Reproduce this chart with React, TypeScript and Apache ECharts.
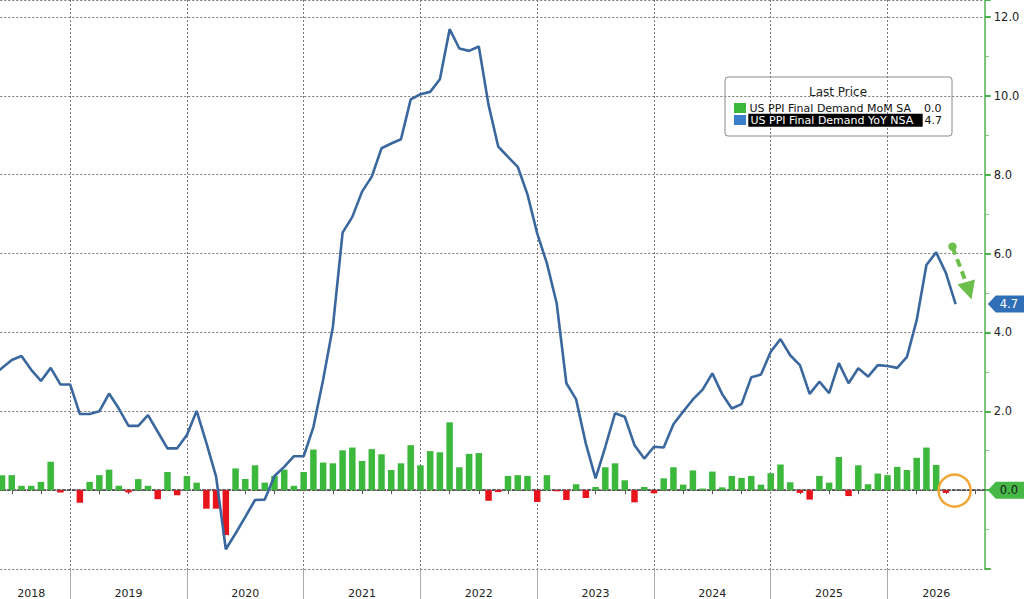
import React, { useEffect, useRef } from "react";
import * as echarts from "echarts";

// ---- Data (monthly, plotted at month end) ----
const START_YEAR = 2018;
const START_MONTH = 4; // April 2018 is the first category
const END_YEAR = 2026;
const END_MONTH = 10; // axis runs out to October 2026

// US PPI Final Demand YoY NSA (%)
const yoy2018 = [2.9, 3.1, 3.3, 3.4, 3.05, 2.77, 3.1, 2.68, 2.68]; // Apr-Dec
const yoy2019 = [1.93, 1.93, 2.0, 2.45, 2.07, 1.63, 1.63, 1.9, 1.48, 1.06, 1.06, 1.4];
const yoy2020 = [2.01, 1.2, 0.34, -1.5, -1.1, -0.68, -0.25, -0.24, 0.36, 0.59, 0.86, 0.86];
const yoy2021 = [1.6, 2.8, 4.14, 6.53, 6.93, 7.57, 7.95, 8.67, 8.79, 8.9, 9.91, 10.04];
const yoy2022 = [10.1, 10.42, 11.69, 11.2, 11.14, 11.25, 9.77, 8.71, 8.45, 8.2, 7.5, 6.51];
const yoy2023 = [5.75, 4.74, 2.71, 2.3, 1.18, 0.3, 1.1, 1.95, 1.86, 1.14, 0.8, 1.1];
const yoy2024 = [1.08, 1.67, 1.99, 2.3, 2.55, 2.96, 2.44, 2.07, 2.18, 2.86, 2.93, 3.51];
const yoy2025 = [3.83, 3.42, 3.17, 2.44, 2.75, 2.46, 3.22, 2.71, 3.09, 2.88, 3.17, 3.15];
const yoy2026 = [3.1, 3.38, 4.31, 5.71, 6.03, 5.51, 4.72]; // Jan-Jul

// US PPI Final Demand MoM SA (%)
const mom2018 = [null, 0.38, 0.38, 0.11, 0.11, 0.21, 0.72, -0.06, 0.0];
const mom2019 = [-0.32, 0.21, 0.38, 0.52, 0.11, -0.06, 0.28, 0.11, -0.23, 0.46, -0.13, 0.36];
const mom2020 = [0.19, -0.47, -0.47, -1.14, 0.55, 0.28, 0.63, 0.19, 0.36, 0.52, 0.11, 0.46];
const mom2021 = [1.03, 0.7, 0.68, 1.01, 1.08, 0.74, 1.04, 0.91, 0.51, 0.68, 1.14, 0.63];
const mom2022 = [0.99, 0.96, 1.72, 0.58, 0.92, 0.94, -0.27, -0.05, 0.36, 0.38, 0.36, -0.3];
const mom2023 = [0.38, -0.03, -0.25, 0.15, -0.2, 0.08, 0.58, 0.68, 0.25, -0.31, 0.08, -0.08];
const mom2024 = [0.3, 0.58, 0.14, 0.5, 0.04, 0.47, 0.07, 0.36, 0.31, 0.36, 0.14, 0.43];
const mom2025 = [0.65, 0.2, -0.07, -0.24, 0.36, 0.19, 0.84, -0.15, 0.63, 0.15, 0.42, 0.38];
const mom2026 = [0.59, 0.51, 0.82, 1.08, 0.64, -0.07, 0.0];

const SERIES_MOM = "US PPI Final Demand MoM SA";
const SERIES_YOY = "US PPI Final Demand YoY NSA";

// ---- Styling ----
const GREEN = "#3cb83c";
const RED = "#e8141c";
const LINE_BLUE = "#3a689e";
const TAG_BLUE = "#2f6fb8";
const AXIS_GREEN = "#7cc67c";
const FONT = "DejaVu Sans";
const OFF = 8; // the chart div starts 8px left of the page so the first month is cut off like the reference

function buildCategories(): string[] {
  const out: string[] = [];
  let y = START_YEAR;
  let m = START_MONTH;
  while (y < END_YEAR || (y === END_YEAR && m <= END_MONTH)) {
    out.push(`${y}-${String(m).padStart(2, "0")}`);
    m++;
    if (m > 12) {
      m = 1;
      y++;
    }
  }
  return out;
}

function pad(arr: (number | null)[], n: number) {
  const out = arr.slice();
  while (out.length < n) out.push(null);
  return out;
}

export default function App() {
  const ref = useRef<HTMLDivElement>(null);

  useEffect(() => {
    if (!ref.current) return;
    const chart = echarts.init(ref.current, undefined, { renderer: "svg" });

    const cats = buildCategories();
    const n = cats.length;
    const yoy = pad(
      [...yoy2018, ...yoy2019, ...yoy2020, ...yoy2021, ...yoy2022, ...yoy2023, ...yoy2024, ...yoy2025, ...yoy2026],
      n
    );
    const mom = pad(
      [...mom2018, ...mom2019, ...mom2020, ...mom2021, ...mom2022, ...mom2023, ...mom2024, ...mom2025, ...mom2026],
      n
    );

    // year label index = centre of the visible part of each year
    const decIdx: number[] = [];
    cats.forEach((c, i) => {
      if (c.endsWith("-12")) decIdx.push(i);
    });
    const bounds = [0, ...decIdx, n - 1];
    const labelIdx = new Set<number>();
    for (let k = 0; k < bounds.length - 1; k++) {
      if (bounds[k + 1] > bounds[k]) labelIdx.add(Math.round((bounds[k] + bounds[k + 1]) / 2));
    }

    const isQuarter = (v: string) => /-(03|06|09)$/.test(v);
    const isDec = (v: string) => v.endsWith("-12");

    const option: any = {
      animation: false,
      backgroundColor: "#ffffff",
      grid: { left: 0.3, right: 39.2, top: 0, bottom: 30 },
      xAxis: [
        {
          type: "category",
          data: cats,
          boundaryGap: false,
          axisLine: { show: true, lineStyle: { color: "#333", type: [3, 2], width: 1.5 } },
          axisTick: {
            show: true,
            interval: (_i: number, v: string) => isQuarter(v),
            length: 4,
            lineStyle: { color: "#555" },
          },
          axisLabel: {
            interval: (i: number) => labelIdx.has(i),
            formatter: (v: string) => v.slice(0, 4),
            color: "#222",
            fontSize: 11,
            fontFamily: FONT,
            margin: 19,
          },
          splitLine: {
            show: true,
            interval: (_i: number, v: string) => isDec(v),
            lineStyle: { color: "#777", type: [2, 2], width: 1 },
          },
        },
        {
          type: "category",
          data: cats,
          boundaryGap: false,
          position: "bottom",
          axisLine: { show: false },
          axisLabel: { show: false },
          splitLine: { show: false },
          axisTick: {
            show: true,
            interval: (_i: number, v: string) => isDec(v),
            length: 31,
            lineStyle: { color: "#aaa", width: 1 },
          },
        },
      ],
      yAxis: {
        type: "value",
        position: "right",
        min: -2,
        max: 12.43,
        interval: 2,
        axisLine: { show: true, lineStyle: { color: AXIS_GREEN, width: 2 } },
        axisTick: { show: true, length: 6, lineStyle: { color: "#4fb04f", width: 2 } },
        minorTick: { show: true, splitNumber: 2, length: 4, lineStyle: { color: AXIS_GREEN, width: 1 } },
        axisLabel: {
          // 0.0 is shown by the green last-price tag instead
          formatter: (v: number) => {
            if (v < 0.001) return "";
            if (Math.abs(v / 2 - Math.round(v / 2)) > 1e-6) return "";
            return v.toFixed(1);
          },
          color: "#222",
          fontSize: 11.5,
          fontFamily: FONT,
          margin: 9,
        },
        splitLine: { show: true, lineStyle: { color: "#777", type: [2, 2], width: 1 } },
      },
      series: [
        {
          name: SERIES_MOM,
          type: "bar",
          data: mom,
          barWidth: 6.5,
          itemStyle: {
            color: (p: any) => (p.value < 0 ? RED : GREEN),
          },
          z: 2,
        },
        {
          name: SERIES_YOY,
          type: "line",
          data: yoy,
          symbol: "none",
          lineStyle: { color: LINE_BLUE, width: 2.6 },
          z: 3,
        },
      ],
    };

    chart.setOption(option);

    // ---- overlays: price tags, legend box and annotations ----
    const lastYoy = [...yoy].reverse().find((v) => v !== null) as number;
    const lastMom = [...mom].reverse().find((v) => v !== null) as number;
    const axisX = chart.convertToPixel({ xAxisIndex: 0 }, cats[n - 1]) as number;
    const yYoy = chart.convertToPixel({ yAxisIndex: 0 }, lastYoy) as number;
    const yMom = chart.convertToPixel({ yAxisIndex: 0 }, lastMom) as number;
    const lastMomIdx = mom.length - 1 - [...mom].reverse().findIndex((v) => v !== null);
    const circ = chart.convertToPixel({ xAxisIndex: 0, yAxisIndex: 0 }, [cats[lastMomIdx], lastMom]) as number[];
    const W = 1024 + OFF;

    const tag = (y: number, fill: string, text: string, textFill: string) => {
      const x0 = axisX + 3;
      return [
        {
          type: "polygon",
          shape: {
            points: [
              [x0, y],
              [x0 + 8, y - 8.5],
              [W, y - 8.5],
              [W, y + 8.5],
              [x0 + 8, y + 8.5],
            ],
          },
          style: { fill },
          z: 10,
        },
        {
          type: "text",
          x: x0 + 12,
          y,
          style: { text, fill: textFill, font: `11.5px "${FONT}"`, verticalAlign: "middle", align: "left" },
          z: 11,
        },
      ];
    };

    const X = (v: number) => v + OFF;
    const graphic: any[] = [
      ...tag(yYoy, TAG_BLUE, lastYoy.toFixed(1), "#ffffff"),
      ...tag(yMom, "#45b845", lastMom.toFixed(1), "#1a1a1a"),
      // legend box
      {
        type: "rect",
        shape: { x: X(725), y: 77, width: 227, height: 59, r: 3 },
        style: { fill: "rgba(255,255,255,0)", stroke: "#8a8a8a", lineWidth: 1 },
        z: 20,
      },
      {
        type: "text",
        x: X(838),
        y: 92,
        style: { text: "Last Price", fill: "#222", font: `12px "${FONT}"`, align: "center", verticalAlign: "middle" },
        z: 21,
      },
      { type: "rect", shape: { x: X(734), y: 103, width: 12, height: 10 }, style: { fill: GREEN }, z: 21 },
      {
        type: "text",
        x: X(749.5),
        y: 108,
        style: { text: SERIES_MOM, fill: "#111", font: `11px "${FONT}"`, verticalAlign: "middle" },
        z: 21,
      },
      {
        type: "text",
        x: X(924),
        y: 108,
        style: { text: lastMom.toFixed(1), fill: "#111", font: `11px "${FONT}"`, verticalAlign: "middle" },
        z: 21,
      },
      { type: "rect", shape: { x: X(734), y: 115, width: 12, height: 10 }, style: { fill: "#3b7fcc" }, z: 21 },
      { type: "rect", shape: { x: X(748.3), y: 113.8, width: 174.4, height: 13 }, style: { fill: "#000" }, z: 21 },
      {
        type: "text",
        x: X(750.5),
        y: 120.5,
        style: { text: SERIES_YOY, fill: "#fff", font: `11px "${FONT}"`, verticalAlign: "middle" },
        z: 22,
      },
      {
        type: "text",
        x: X(924.5),
        y: 120.5,
        style: { text: lastYoy.toFixed(1), fill: "#111", font: `11px "${FONT}"`, verticalAlign: "middle" },
        z: 21,
      },
      // green dashed arrow annotation
      { type: "circle", shape: { cx: X(952.5), cy: 246.7, r: 4.2 }, style: { fill: "#6cbf4a" }, z: 15 },
      {
        type: "line",
        shape: { x1: X(952.5), y1: 247, x2: X(965.5), y2: 281 },
        style: { stroke: "#6cbf4a", lineWidth: 4, lineDash: [8, 5] },
        z: 15,
      },
      {
        type: "polygon",
        shape: { points: [[X(957.5), 284.5], [X(975), 279.5], [X(971.5), 299.5]] },
        style: { fill: "#6cbf4a" },
        z: 15,
      },
      // orange highlight circle
      {
        type: "circle",
        shape: { cx: circ[0] - 1, cy: circ[1] + 0.5, r: 16 },
        style: { fill: "none", stroke: "#f0a534", lineWidth: 2.5 },
        z: 15,
      },
    ];

    chart.setOption({ graphic });

    return () => chart.dispose();
  }, []);

  return (
    <div
      ref={ref}
      style={{ position: "fixed", left: -OFF, top: 0, width: 1024 + OFF, height: 599, background: "#fff" }}
    />
  );
}
